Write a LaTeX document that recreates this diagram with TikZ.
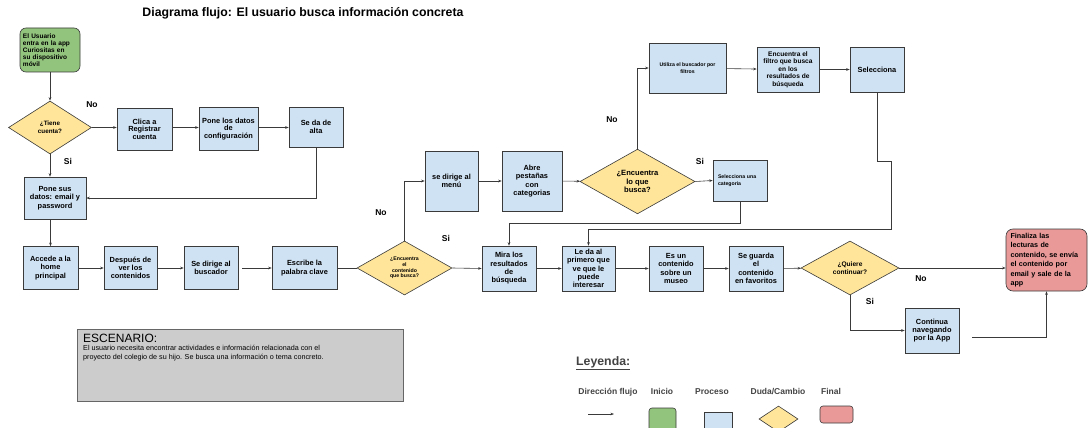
\documentclass[tikz,border=0pt]{standalone}
\usepackage{fontspec}
\setmainfont{Liberation Sans}
\usetikzlibrary{arrows.meta,shapes.geometric,calc}

\definecolor{procfill}{HTML}{CFE2F3}
\definecolor{startfill}{HTML}{93C47D}
\definecolor{endfill}{HTML}{EA9999}
\definecolor{askfill}{HTML}{FFE599}
\definecolor{edge}{HTML}{3A3A3A}
\definecolor{notefill}{HTML}{CCCCCC}
\definecolor{legtext}{HTML}{434343}

\newcommand{\fs}[2]{\fontsize{#1}{#2}\selectfont}

\tikzset{
  base/.style={draw=edge, line width=0.6pt, align=center, inner sep=1pt,
    text=black, font=\fs{7.4}{8.3}\bfseries},
  dims/.style n args={2}{minimum width=#1pt, minimum height=#2pt},
  proc/.style={base, rectangle, fill=procfill},
  ask/.style={base, diamond, fill=askfill, inner sep=0pt},
  startbox/.style={base, rectangle, rounded corners=6pt, fill=startfill},
  endbox/.style={base, rectangle, rounded corners=7pt, fill=endfill},
  flow/.style={draw=edge, line width=0.6pt, -{Stealth[length=3.5pt,width=2.6pt]}},
  plainline/.style={draw=edge, line width=0.6pt},
  answer/.style={font=\fs{8.5}{9}\bfseries, text=black, inner sep=0pt},
  legtxt/.style={font=\fs{8.5}{9}\bfseries, text=legtext, inner sep=0pt, anchor=base},
}

\begin{document}
\begin{tikzpicture}[x=1pt, y=-1pt]
\useasboundingbox (0,0) rectangle (1088,428);
\clip (0,0) rectangle (1088,428);

% title
\node[font=\fs{12.3}{13}\bfseries, inner sep=0pt] (title) at (303,13)
  {Diagrama flujo: El usuario busca información concreta};

% account branch
\node[startbox, dims={60}{44}, align=left, text width=54pt, font=\fs{6.5}{7}\bfseries]
  (start) at (50,50) {El Usuario\\entra en la app\\Curiositas en\\su dispositivo\\móvil};
\node[ask, dims={83}{53}, font=\fs{6.3}{7.6}\bfseries] (tiene) at (50,127.5) {¿Tiene\\cuenta?};
\node[proc, dims={55}{42}, font=\fs{7.4}{7.6}\bfseries] (reg)  at (144.5,129) {Clica a\\Registrar\\cuenta};
\node[proc, dims={59}{43}, font=\fs{7.4}{7.6}\bfseries] (conf) at (228.5,129) {Pone los datos\\de\\configuración};
\node[proc, dims={54}{40}] (alta) at (316,127) {Se da de\\alta};
\node[proc, dims={62}{42}] (datos) at (55,198) {Pone sus\\datos: email y\\password};

% main row
\node[proc, dims={55}{43}] (home)  at (50.5,268) {Accede a la\\home\\principal};
\node[proc, dims={53}{43}] (desp)  at (130.5,268) {Después de\\ver los\\contenidos};
\node[proc, dims={54}{43}] (busc)  at (211,268) {Se dirige al\\buscador};
\node[proc, dims={65}{43}] (clave) at (304.5,268) {Escribe la\\palabra clave};
\node[ask, dims={95}{54}, font=\fs{5.2}{5.7}\bfseries] (enc1) at (404.5,268)
  {¿Encuentra\\el\\contenido\\que busca?};

% menu branch
\node[proc, dims={53}{60}] (menu) at (451.5,181) {se dirige al\\menú};
\node[proc, dims={60}{60}] (abre) at (532,181) {Abre\\pestañas\\con\\categorias};
\node[ask, dims={115}{53}, font=\fs{7.6}{8.8}\bfseries] (enc2) at (637.5,181.5)
  {¿Encuentra\\lo que\\busca?};
\node[proc, dims={77}{50}, font=\fs{5.2}{6.6}\bfseries] (util) at (687.5,68)
  {Utiliza el buscador por\\filtros};
\node[proc, dims={62}{45}, font=\fs{6.6}{7.4}\bfseries] (filtro) at (788,69.5)
  {Encuentra el\\filtro que busca\\en los\\resultados de\\búsqueda};
\node[proc, dims={54}{45}] (selec) at (877,69.5) {Selecciona};
\node[proc, dims={54}{41}, align=left, text width=44pt, font=\fs{5.2}{7}\bfseries]
  (cat) at (740,180.5) {Selecciona una\\categoria};

% results row
\node[proc, dims={54}{45}] (mira)  at (509,268.5) {Mira los\\resultados\\de\\búsqueda};
\node[proc, dims={53}{45}] (leda)  at (588.5,268.5) {Le da al\\primero que\\ve que le\\puede\\interesar};
\node[proc, dims={54}{45}] (museo) at (676,268.5) {Es un\\contenido\\sobre un\\museo};
\node[proc, dims={54}{45}] (fav)   at (756,268.5) {Se guarda\\el\\contenido\\en favoritos};
\node[ask, dims={98}{54}, font=\fs{6.6}{7.7}\bfseries] (quiere) at (850,268) {¿Quiere\\continuar?};
\node[endbox, dims={81}{62}, align=left, text width=72pt, font=\fs{7.2}{9.5}\bfseries]
  (fin) at (1046.5,260) {Finaliza las\\lecturas de\\contenido, se envía\\el contenido por\\email y sale de la\\app};
\node[proc, dims={54}{45}] (cont) at (932,330.5) {Continua\\navegando\\por la App};

% connectors
\draw[flow] (start) -- (tiene);
\draw[flow] (tiene.east) -- (tiene.east -| reg.west);
\draw[flow] (tiene.east -| reg.east) -- (tiene.east -| conf.west);
\draw[flow] (tiene.east -| conf.east) -- (tiene.east -| alta.west);
\draw[flow] (tiene.south) -- (tiene.south |- datos.north);
\draw[flow] (alta.south) |- (datos.east);
\draw[flow] (datos.south -| home.north) -- (home.north);
\draw[flow] (home) -- (desp);
\draw[flow] (desp) -- (busc);
\draw[flow] ([xshift=4pt]busc.east) -- (clave.west);
\draw[plainline] (clave.east) -- (enc1.west);
\draw[flow] (enc1.north) |- (menu.west);
\draw[flow] (enc1.east) -- (mira.west);
\draw[flow] (menu) -- (abre);
\draw[flow] (abre) -- (enc2);
\draw[flow] (enc2.north) |- (util.west);
\draw[flow] (enc2.east) -- (cat.west);
\draw[flow] (util) -- (filtro);
\draw[flow] (filtro) -- (selec);
\draw[flow] (cat.south) -- ++(0,22) -| (mira.north);
\draw[flow] (selec.south) -- ++(0,69) -- ++(14,0) -- ++(0,68) -| (leda.north);
\draw[flow] (mira) -- (leda);
\draw[flow] (leda) -- (museo);
\draw[flow] (museo) -- (fav);
\draw[flow] (fav) -- (quiere);
\draw[flow] (quiere.east) -- (quiere.east -| fin.west);
\draw[flow] (quiere.south) |- (cont.west);
\draw[flow] ($(cont.east)+(13,6.5)$) -| (fin.south);

% branch answers
\node[answer] (a1) at (92,105) {No};
\node[answer] (a2) at (68,161) {Si};
\node[answer] (a3) at (381,213) {No};
\node[answer] (a4) at (446,238) {Si};
\node[answer] (a5) at (612,120) {No};
\node[answer] (a6) at (700,161) {Si};
\node[answer] (a7) at (921,279) {No};
\node[answer] (a8) at (870,301) {Si};

% scenario note
\node[draw=black!60, line width=0.6pt, fill=notefill, anchor=north west,
  minimum width=326pt, minimum height=72pt, inner sep=0pt] (note) at (77,329) {};
\node[anchor=north west, inner sep=0pt, font=\fs{12}{12}] (notehead)
  at ([xshift=6pt,yshift=-5pt]note.north west) {ESCENARIO:};
\node[anchor=north west, inner sep=0pt, align=left, font=\fs{7.2}{9.3}] (notebody)
  at ([yshift=-2pt]notehead.south west)
  {El usuario necesita encontrar actividades e información relacionada con el\\
   proyecto del colegio de su hijo. Se busca una información o tema concreto.};

% legend
\node[anchor=west, inner sep=0pt, font=\fs{12.3}{13}\bfseries, text=legtext] (leyenda)
  at (576,363) {\underline{Leyenda:}};
\node[legtxt] (l1) at (608,394) {Dirección flujo};
\node[legtxt] (l2) at (662,394) {Inicio};
\node[legtxt] (l3) at (712,394) {Proceso};
\node[legtxt] (l4) at (778,394) {Duda/Cambio};
\node[legtxt] (l5) at (831,394) {Final};
\coordinate (arrA) at (588,414);
\coordinate (arrB) at (614,414);
\draw[flow] (arrA) -- (arrB);
\node[startbox, dims={27}{26}, rounded corners=3pt] (lgstart) at (662.5,421) {};
\node[proc, dims={28}{26}] (lgproc) at (718,425) {};
\node[ask, dims={39}{26}] (lgask) at (778.5,419) {};
\node[endbox, dims={33}{17}, rounded corners=3pt] (lgend) at (836.5,414.5) {};

\end{tikzpicture}
\end{document}
